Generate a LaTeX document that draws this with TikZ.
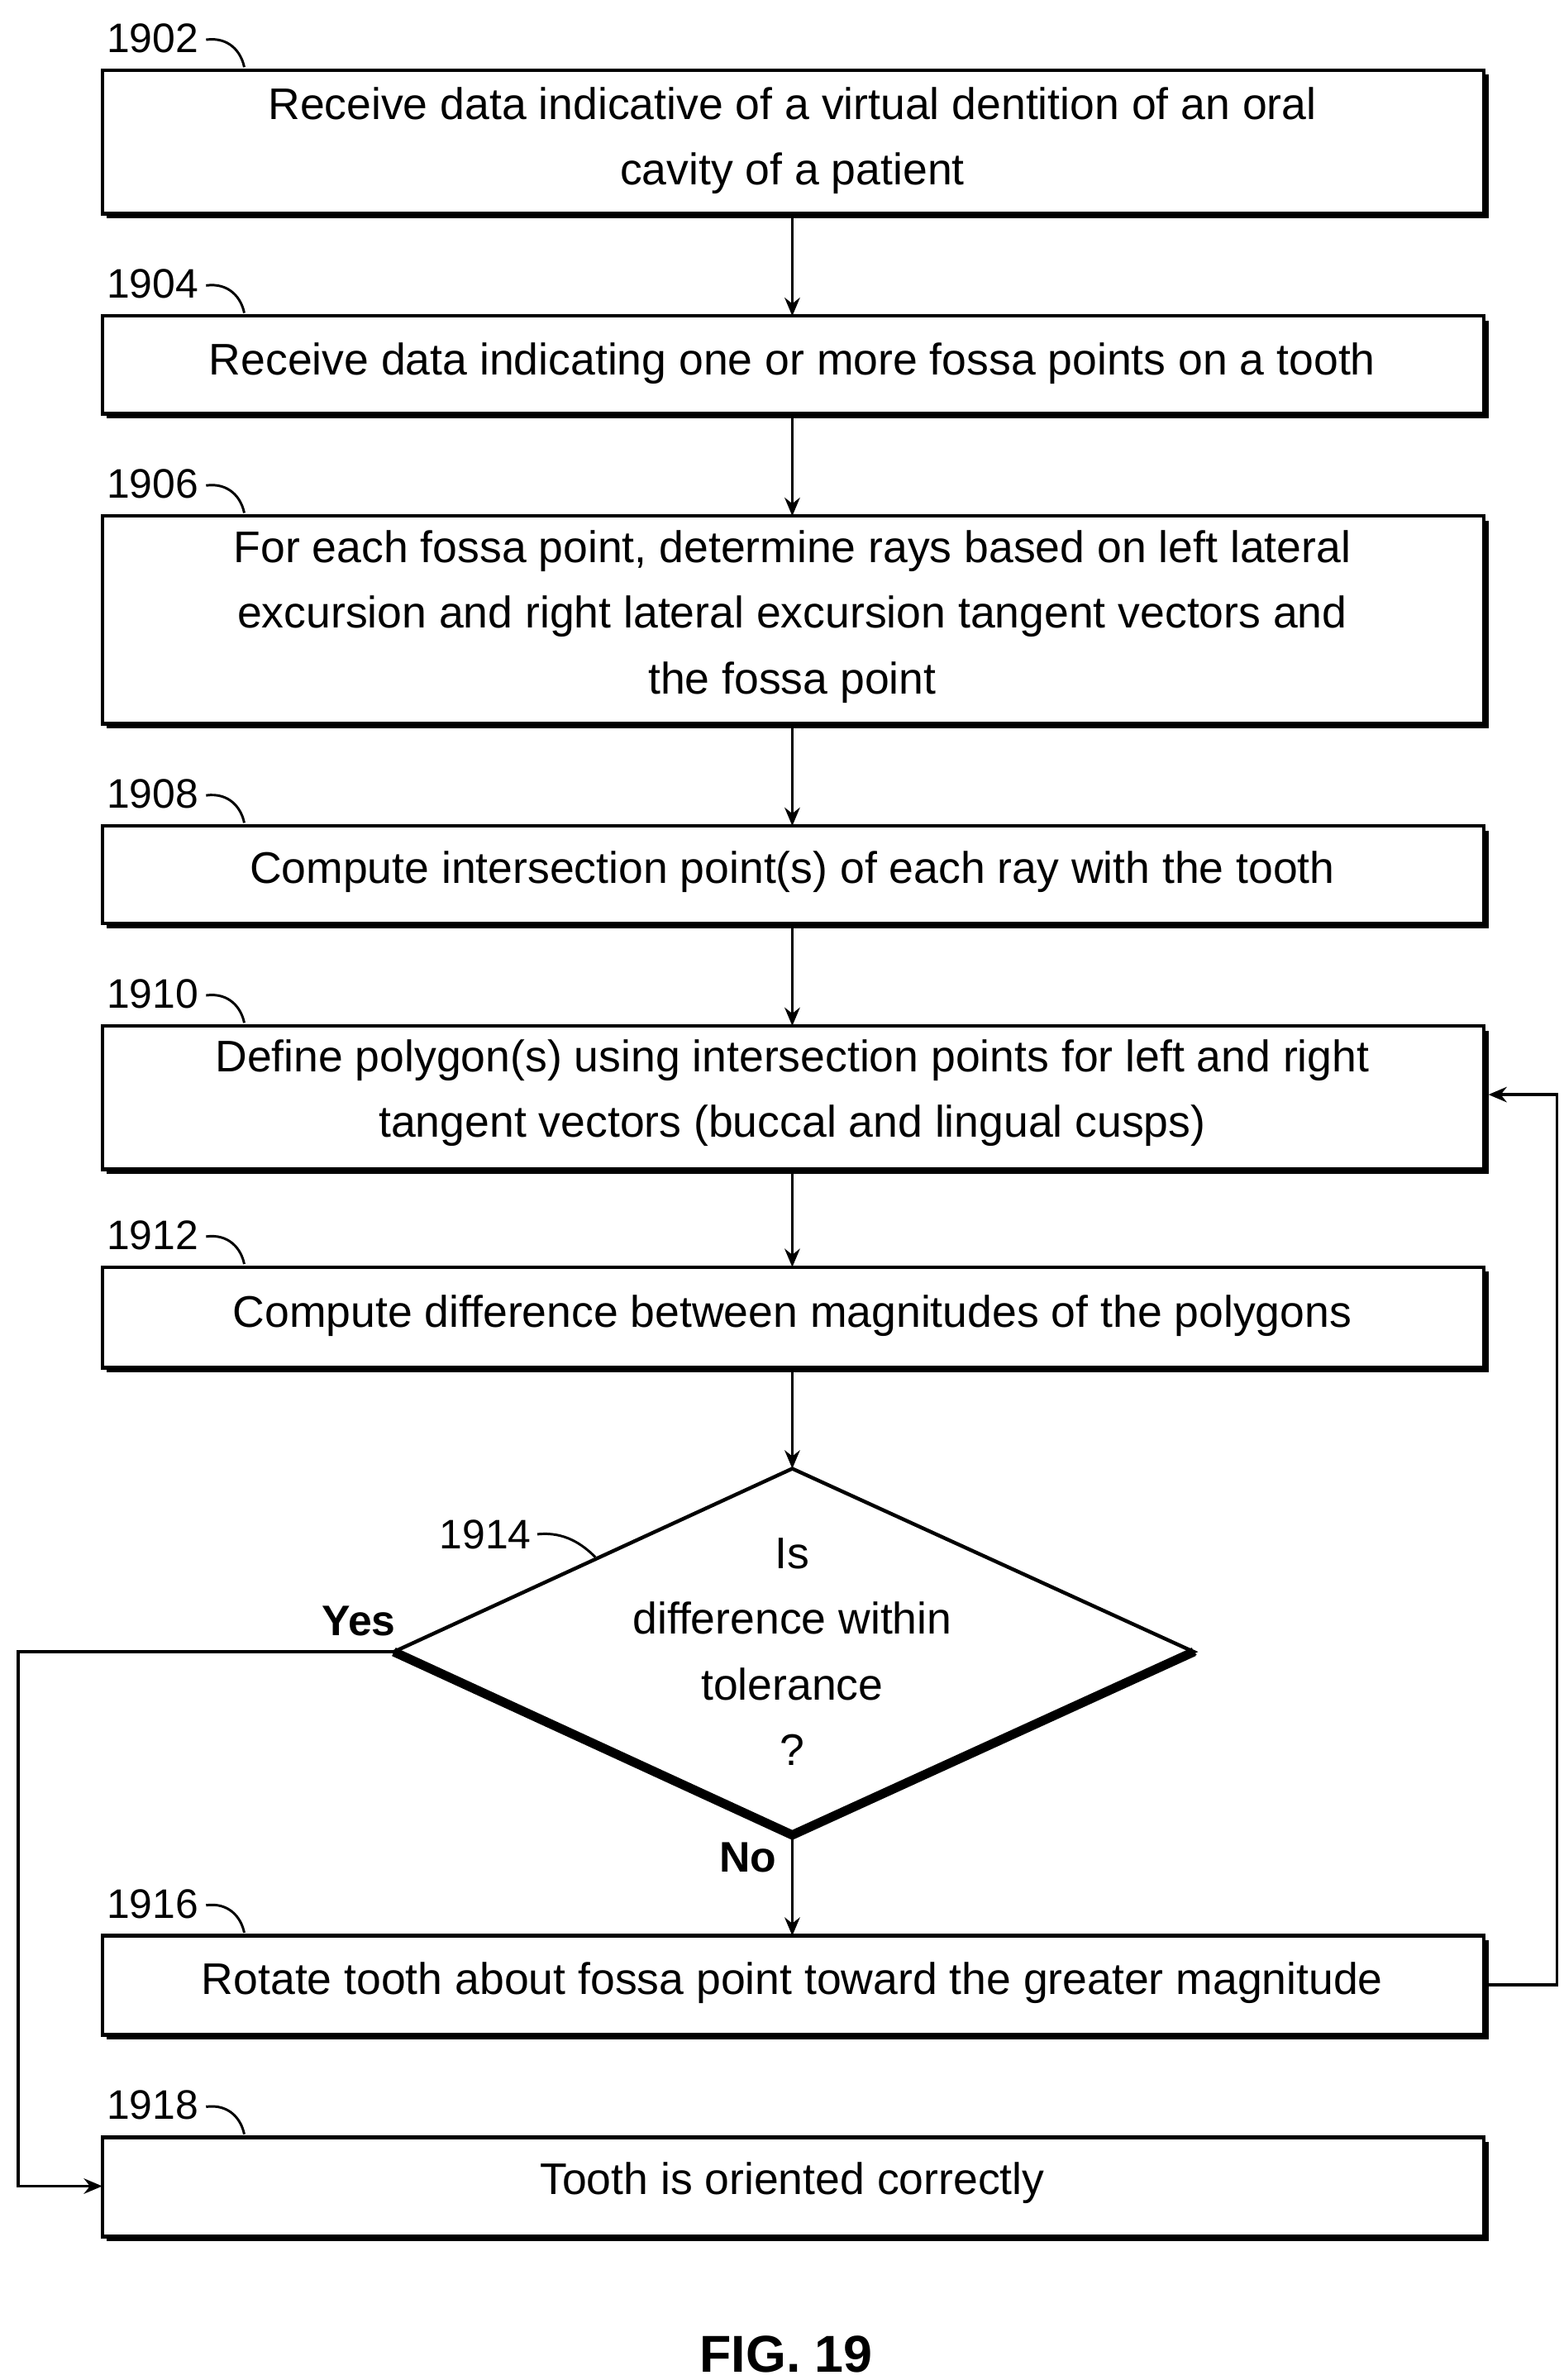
\documentclass[tikz,border=0pt]{standalone}
\usepackage{fontspec}
\setmainfont{Liberation Sans}
\usetikzlibrary{arrows.meta}
\begin{document}
\begin{tikzpicture}[x=0.5pt,y=-0.5pt,
  box/.style={draw,line width=1.2pt,fill=white},
  shadow/.style={draw=black,line width=1.2pt,fill=black},
  txt/.style={align=center,font=\fontsize{14.5}{21.5}\selectfont,inner sep=0pt},
  lab/.style={font=\fontsize{13.5}{16}\selectfont,inner sep=0pt},
  arr/.style={line width=1pt,-{Stealth[length=6pt,width=5pt]}}]
\useasboundingbox (0,0) rectangle (1024,1559);
\newcommand{\bx}[4]{%
  \fill (#2+3,#3+3) rectangle (972+3,#4+3);
  \draw[box] (#2,#3) rectangle (972,#4);
  \coordinate (#1) at (#2,#3);}
\foreach \n/\t/\b in {1902/46/140,1904/207/271,1906/338/474,1908/541/605,1910/672/766,1912/830/896,1916/1268/1333,1918/1400/1465}{
  \fill (67+3,\t+3) rectangle (972+3,\b+3);
  \draw[box] (67,\t) rectangle (972,\b);
  \node[lab] (l\n) at (100,\t-21) {\n};
  \draw[line width=0.8pt] (135,\t-20) .. controls (150,\t-22) and (158,\t-12) .. (160,\t-2);
}
\node[txt] (t1902) at (519,92) {Receive data indicative of a virtual dentition of an oral\\cavity of a patient};
\node[txt] (t1904) at (519,238) {Receive data indicating one or more fossa points on a tooth};
\node[txt] (t1906) at (519,404) {For each fossa point, determine rays based on left lateral\\excursion and right lateral excursion tangent vectors and\\the fossa point};
\node[txt] (t1908) at (519,571) {Compute intersection point(s) of each ray with the tooth};
\node[txt] (t1910) at (519,716) {Define polygon(s) using intersection points for left and right\\tangent vectors (buccal and lingual cusps)};
\node[txt] (t1912) at (519,862) {Compute difference between magnitudes of the polygons};
\node[txt] (t1916) at (519,1299) {Rotate tooth about fossa point toward the greater magnitude};
\node[txt] (t1918) at (519,1430) {Tooth is oriented correctly};
% diamond
\coordinate (dt) at (519,962); \coordinate (dl) at (258,1082);
\coordinate (dr) at (782,1082); \coordinate (db) at (519,1202);
\fill (dl) -- (db) -- (784,1084) -- (dr) -- cycle;
\draw[line width=1.2pt,fill=white] (dt) -- (dr) -- (db) -- (dl) -- cycle;
\draw[line width=3pt] (dl) -- (db) -- (dr);
\node[txt] (t1914) at (519,1082) {Is\\difference within\\tolerance\\?};
\node[lab] (l1914) at (318,1005) {1914};
\draw[line width=0.8pt] (352,1005) .. controls (370,1003) and (382,1012) .. (390,1020);
% arrows
\draw[arr] (519,140) -- (519,207);
\draw[arr] (519,271) -- (519,338);
\draw[arr] (519,474) -- (519,541);
\draw[arr] (519,605) -- (519,672);
\draw[arr] (519,766) -- (519,830);
\draw[arr] (519,896) -- (dt);
\draw[arr] (db) -- (519,1268);
\draw[arr] (dl) -- (12,1082) -- (12,1432) -- (67,1432);
\draw[arr] (975,1300) -- (1020,1300) -- (1020,717) -- (975,717);
\node[font=\bfseries\fontsize{14}{16}\selectfont] (yes) at (235,1062) {Yes};
\node[font=\bfseries\fontsize{14}{16}\selectfont] (no) at (490,1217) {No};
\node[font=\bfseries\fontsize{17}{20}\selectfont] (fig) at (515,1542) {FIG. 19};
\end{tikzpicture}
\end{document}
